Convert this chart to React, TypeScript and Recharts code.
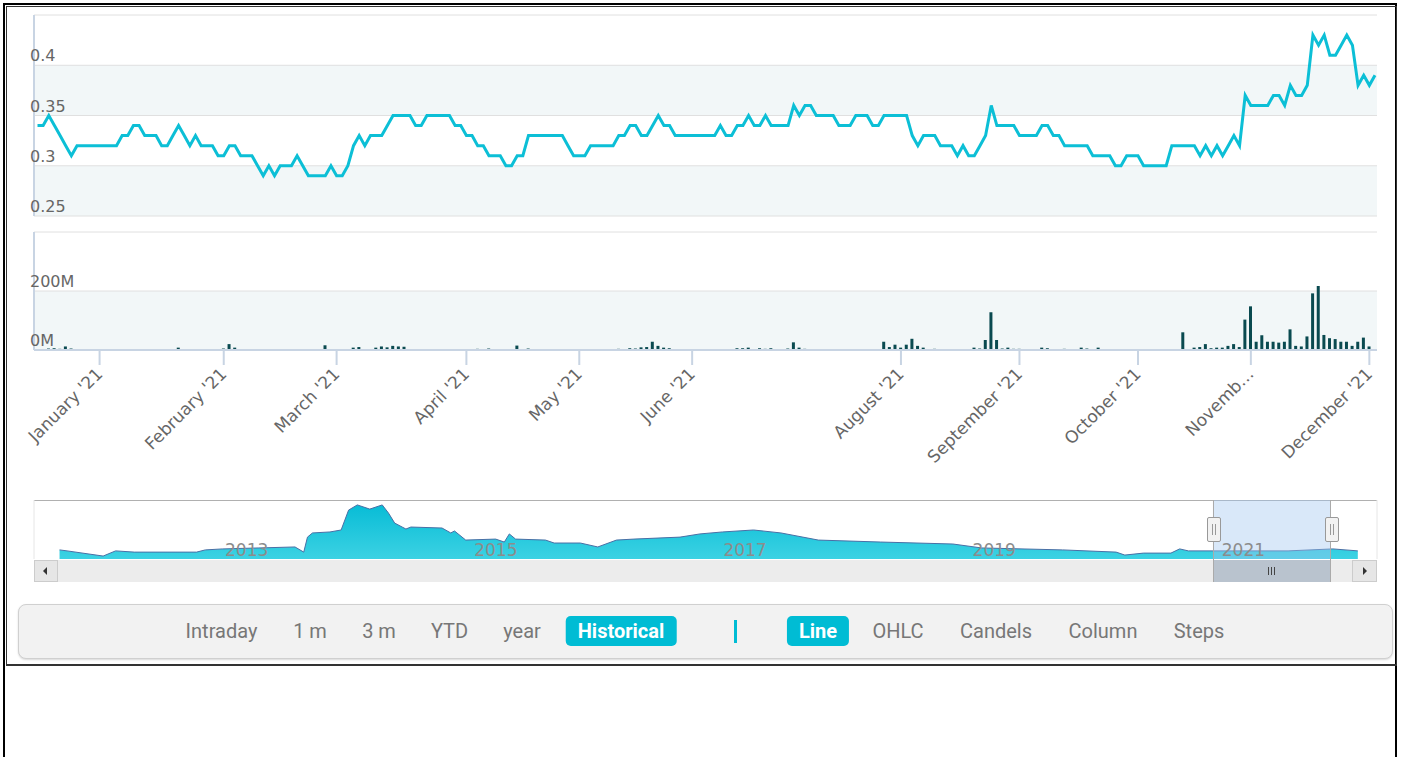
import React from 'react';
import {
  LineChart,
  Line,
  BarChart,
  Bar,
  AreaChart,
  Area,
  XAxis,
  YAxis,
  CartesianGrid,
  ReferenceArea,
  ReferenceLine,
} from 'recharts';

// closing price per trading day, Dec '20 .. Dec '21
const prices = [
  0.34, 0.34, 0.35, 0.34, 0.33, 0.32, 0.31, 0.32, 0.32, 0.32, 0.32, 0.32, 0.32, 0.32, 0.32, 0.33, 0.33, 0.34, 0.34, 0.33,
  0.33, 0.33, 0.32, 0.32, 0.33, 0.34, 0.33, 0.32, 0.33, 0.32, 0.32, 0.32, 0.31, 0.31, 0.32, 0.32, 0.31, 0.31, 0.31, 0.30,
  0.29, 0.30, 0.29, 0.30, 0.30, 0.30, 0.31, 0.30, 0.29, 0.29, 0.29, 0.29, 0.30, 0.29, 0.29, 0.30, 0.32, 0.33, 0.32, 0.33,
  0.33, 0.33, 0.34, 0.35, 0.35, 0.35, 0.35, 0.34, 0.34, 0.35, 0.35, 0.35, 0.35, 0.35, 0.34, 0.34, 0.33, 0.33, 0.32, 0.32,
  0.31, 0.31, 0.31, 0.30, 0.30, 0.31, 0.31, 0.33, 0.33, 0.33, 0.33, 0.33, 0.33, 0.33, 0.32, 0.31, 0.31, 0.31, 0.32, 0.32,
  0.32, 0.32, 0.32, 0.33, 0.33, 0.34, 0.34, 0.33, 0.33, 0.34, 0.35, 0.34, 0.34, 0.33, 0.33, 0.33, 0.33, 0.33, 0.33, 0.33,
  0.33, 0.34, 0.33, 0.33, 0.34, 0.34, 0.35, 0.34, 0.34, 0.35, 0.34, 0.34, 0.34, 0.34, 0.36, 0.35, 0.36, 0.36, 0.35, 0.35,
  0.35, 0.35, 0.34, 0.34, 0.34, 0.35, 0.35, 0.35, 0.34, 0.34, 0.35, 0.35, 0.35, 0.35, 0.35, 0.33, 0.32, 0.33, 0.33, 0.33,
  0.32, 0.32, 0.32, 0.31, 0.32, 0.31, 0.31, 0.32, 0.33, 0.36, 0.34, 0.34, 0.34, 0.34, 0.33, 0.33, 0.33, 0.33, 0.34, 0.34,
  0.33, 0.33, 0.32, 0.32, 0.32, 0.32, 0.32, 0.31, 0.31, 0.31, 0.31, 0.30, 0.30, 0.31, 0.31, 0.31, 0.30, 0.30, 0.30, 0.30,
  0.30, 0.32, 0.32, 0.32, 0.32, 0.32, 0.31, 0.32, 0.31, 0.32, 0.31, 0.32, 0.33, 0.32, 0.37, 0.36, 0.36, 0.36, 0.36, 0.37,
  0.37, 0.36, 0.38, 0.37, 0.37, 0.38, 0.43, 0.42, 0.43, 0.41, 0.41, 0.42, 0.43, 0.42, 0.38, 0.39, 0.38, 0.39,
];

// traded volume per day, millions
const volumes = [
  0, 0, 5, 6, 4, 12, 5, 0, 0, 0, 0, 0, 0, 0, 0, 0, 0, 3, 3, 0,
  0, 0, 0, 0, 0, 8, 0, 0, 0, 0, 3, 0, 0, 5, 20, 8, 0, 0, 0, 0,
  0, 0, 0, 0, 0, 0, 0, 0, 0, 0, 0, 16, 0, 0, 0, 0, 8, 10, 0, 0,
  8, 12, 9, 14, 12, 11, 0, 0, 0, 3, 0, 0, 0, 3, 0, 0, 0, 0, 4, 3,
  5, 0, 0, 3, 0, 15, 0, 5, 0, 0, 0, 0, 0, 0, 0, 0, 0, 0, 2, 0,
  0, 0, 3, 4, 0, 6, 5, 9, 10, 28, 14, 8, 6, 2, 2, 0, 0, 0, 0, 0,
  0, 0, 0, 0, 6, 6, 8, 0, 6, 4, 6, 0, 0, 5, 26, 8, 4, 0, 0, 0,
  0, 3, 3, 0, 3, 3, 0, 0, 0, 0, 28, 10, 18, 8, 18, 38, 14, 8, 0, 4,
  3, 0, 3, 0, 0, 0, 8, 5, 34, 128, 34, 5, 8, 4, 4, 0, 0, 0, 8, 6,
  0, 3, 4, 0, 0, 8, 5, 0, 8, 0, 0, 3, 3, 0, 0, 0, 0, 0, 0, 3,
  0, 3, 0, 60, 0, 8, 10, 20, 6, 8, 8, 14, 20, 10, 103, 148, 28, 50, 28, 28,
  25, 28, 70, 14, 12, 46, 192, 217, 51, 40, 37, 28, 28, 14, 28, 42, 12, 0,
];

const monthTickIndex = [11, 33, 53, 76, 96, 116, 153, 174, 195, 215, 236];
const monthTickLabels = [
  "January '21", "February '21", "March '21", "April '21", "May '21", "June '21",
  "August '21", "September '21", "October '21", 'Novemb…', "December '21",
];
const priceTicks = [0.25, 0.3, 0.35, 0.4, 0.45];
const volumeTicks = [0, 200, 400];

// navigator: full history
const navYears = [
  2011.72, 2011.78, 2012.07, 2012.17, 2012.32, 2012.82, 2012.89, 2013.03, 2013.32, 2013.61,
  2013.68, 2013.71, 2013.75, 2013.89, 2013.98, 2014.04, 2014.11, 2014.21, 2014.31, 2014.36,
  2014.41, 2014.47, 2014.5, 2014.54, 2014.79, 2014.86, 2014.89, 2014.98, 2015.22, 2015.29,
  2015.33, 2015.38, 2015.62, 2015.69, 2015.9, 2016.04, 2016.19, 2016.33, 2016.7, 2016.86,
  2017.04, 2017.29, 2017.51, 2017.81, 2018.31, 2018.89, 2019.12, 2019.77, 2020.2, 2020.27,
  2020.42, 2020.64, 2020.71, 2020.78, 2021.58, 2021.94, 2022.14,
];
const navValues = [
  0.37, 0.33, 0.12, 0.33, 0.28, 0.28, 0.37, 0.41, 0.45, 0.49,
  0.28, 0.89, 1.06, 1.1, 1.18, 1.99, 2.2, 2.03, 2.2, 1.87,
  1.46, 1.3, 1.22, 1.3, 1.26, 1.06, 1.14, 0.77, 0.81, 0.69,
  1.02, 0.81, 0.77, 0.65, 0.65, 0.49, 0.77, 0.81, 0.89, 1.02,
  1.1, 1.18, 1.06, 0.77, 0.69, 0.61, 0.45, 0.37, 0.28, 0.16,
  0.24, 0.24, 0.41, 0.33, 0.33, 0.41, 0.33,
];
const navYearTicks = [2013, 2015, 2017, 2019, 2021];
const navDomain = [2011.515, 2022.294];
const navSelection = [2020.977, 2021.925];

const rangeButtons = ['Intraday', '1 m', '3 m', 'YTD', 'year', 'Historical'];
const rangeButtonX = [221.5, 310, 379, 449.5, 522, 621];
const typeButtons = ['Line', 'OHLC', 'Candels', 'Column', 'Steps'];
const typeButtonX = [818, 898, 996, 1103, 1199];

const FONT = '"DejaVu Sans", sans-serif';
const AXIS = '#c8d4e3';
const BAND = '#f2f7f8';
const CYAN = '#0cbfd6';

function PriceTick(props: any) {
  const { y, payload } = props;
  if (payload.value === 0.45) return <g />;
  return (
    <text x={30} y={y - 4} fontSize={16} fill="#666" fontFamily={FONT}>
      {String(payload.value)}
    </text>
  );
}

function VolumeTick(props: any) {
  const { y, payload } = props;
  if (payload.value === 400) return <g />;
  return (
    <text x={30} y={y - 4} fontSize={16} fill="#666" fontFamily={FONT}>
      {`${payload.value}M`}
    </text>
  );
}

function MonthTick(props: any) {
  const { x, y, payload } = props;
  const k = monthTickIndex.indexOf(payload.value);
  const ax = x + 4;
  const ay = y + 8;
  return (
    <text
      x={ax}
      y={ay}
      textAnchor="end"
      transform={`rotate(-45 ${ax} ${ay})`}
      fontSize={17}
      fill="#666"
      fontFamily={FONT}
    >
      {monthTickLabels[k]}
    </text>
  );
}

function yearLabel(year: number) {
  return (p: any) => {
    const vb = p.viewBox ?? p;
    return (
      <text x={vb.x + 6} y={vb.y + vb.height - 3} fontSize={17} fill="#8c8c8c" fontFamily={FONT}>
        {String(year)}
      </text>
    );
  };
}

function Handle({ left }: { left: number }) {
  return (
    <div
      style={{
        position: 'absolute', left: left - 6, top: 517, width: 12, height: 23,
        background: '#f2f2f2', border: '1px solid #999', borderRadius: 2,
      }}
    >
      <div style={{ position: 'absolute', left: 4, top: 6, width: 1, height: 11, background: '#999' }} />
      <div style={{ position: 'absolute', left: 7, top: 6, width: 1, height: 11, background: '#999' }} />
    </div>
  );
}

function TextButton({ label, cx, active }: { label: string; cx: number; active: boolean }) {
  return (
    <div
      style={{
        position: 'absolute', left: cx, top: 616, height: 30, lineHeight: '30px',
        transform: 'translateX(-50%)', padding: active ? '0 12px' : 0,
        background: active ? '#00bcd4' : 'transparent', borderRadius: 5,
        color: active ? '#fff' : '#777', fontWeight: active ? 700 : 400,
        fontFamily: 'Roboto, sans-serif', fontSize: 20, whiteSpace: 'nowrap',
      }}
    >
      {label}
    </div>
  );
}

export default function App() {
  const mainData = prices.map((p, i) => ({ i, price: p, volume: volumes[i] }));
  const navData = navYears.map((t, k) => ({ t, v: navValues[k] }));

  return (
    <div style={{ position: 'absolute', left: 0, top: 0, width: 1404, height: 757, overflow: 'hidden', background: '#fff' }}>
      {/* page frames */}
      <div style={{ position: 'absolute', left: 3, top: 3, width: 1394, height: 800, border: '2px solid #000', boxSizing: 'border-box' }} />
      <div style={{ position: 'absolute', left: 6, top: 6, width: 1391, height: 660, border: '1px solid #333', borderBottomWidth: 2, boxSizing: 'border-box' }} />

      {/* price pane */}
      <div style={{ position: 'absolute', left: 0, top: 0 }}>
        <LineChart width={1404} height={230} data={mainData} margin={{ top: 15, right: 27, bottom: 14, left: 0 }}>
          <CartesianGrid vertical={false} stroke="#e0e0e0" horizontalFill={['#ffffff', BAND, '#ffffff', BAND]} />
          <XAxis type="number" dataKey="i" domain={[0, prices.length - 1]} hide padding={{ left: 3.5, right: 2 }} />
          <YAxis
            width={34}
            domain={[0.25, 0.45]}
            ticks={priceTicks}
            interval={0}
            tickLine={false}
            axisLine={{ stroke: AXIS, strokeWidth: 2 }}
            tick={PriceTick}
          />
          <Line type="linear" dataKey="price" stroke={CYAN} strokeWidth={3} dot={false} isAnimationActive={false} />
        </LineChart>
      </div>

      {/* volume pane */}
      <div style={{ position: 'absolute', left: 0, top: 225 }}>
        <BarChart width={1404} height={260} data={mainData} margin={{ top: 7, right: 27, bottom: 0, left: 0 }}>
          <CartesianGrid vertical={false} stroke="#e0e0e0" horizontalFill={['#ffffff', BAND]} />
          <XAxis
            type="number"
            dataKey="i"
            domain={[0, prices.length - 1]}
            padding={{ left: 3.5, right: 2 }}
            ticks={monthTickIndex}
            interval={0}
            height={135}
            tickSize={15}
            tickLine={{ stroke: AXIS, strokeWidth: 2 }}
            axisLine={{ stroke: AXIS, strokeWidth: 2 }}
            tick={MonthTick}
          />
          <YAxis
            width={34}
            domain={[0, 400]}
            ticks={volumeTicks}
            interval={0}
            tickLine={false}
            axisLine={{ stroke: AXIS, strokeWidth: 2 }}
            tick={VolumeTick}
          />
          <Bar dataKey="volume" fill="#0a4a50" barSize={3} isAnimationActive={false} />
        </BarChart>
      </div>

      {/* navigator */}
      <div style={{ position: 'absolute', left: 34, top: 500, width: 1343, height: 1, background: '#b0b0b0' }} />
      <div style={{ position: 'absolute', left: 0, top: 495 }}>
        <AreaChart width={1404} height={66} data={navData} margin={{ top: 5, right: 27, bottom: 2, left: 34 }}>
          <defs>
            <linearGradient id="navFill" x1="0" y1="0" x2="0" y2="1">
              <stop offset="0%" stopColor="#08bcd6" />
              <stop offset="100%" stopColor="#3cd2e3" />
            </linearGradient>
          </defs>
          <CartesianGrid horizontal={false} stroke="#e6e6e6" />
          <XAxis
            type="number"
            dataKey="t"
            domain={navDomain}
            allowDataOverflow
            ticks={navYearTicks}
            interval={0}
            height={0}
            axisLine={false}
            tickLine={false}
            tick={false}
          />
          <YAxis hide domain={[0, 2.4]} />
          <Area
            type="linear"
            dataKey="v"
            stroke="#4a6fa5"
            strokeWidth={1}
            fill="url(#navFill)"
            fillOpacity={1}
            isAnimationActive={false}
          />
          {navYearTicks.map((yr) => (
            <ReferenceLine key={yr} x={yr} stroke="none" label={yearLabel(yr)} />
          ))}
          <ReferenceArea x1={navSelection[0]} x2={navSelection[1]} fill="#9fc6ef" fillOpacity={0.4} stroke="none" />
        </AreaChart>
      </div>

      {/* scrollbar */}
      <div style={{ position: 'absolute', left: 34, top: 560, width: 1343, height: 22, background: '#ececec' }} />
      <div style={{ position: 'absolute', left: 34, top: 560, width: 24, height: 22, background: '#e6e6e6', border: '1px solid #cccccc', boxSizing: 'border-box' }}>
        <div style={{ position: 'absolute', left: 8, top: 6, width: 0, height: 0, borderTop: '4px solid transparent', borderBottom: '4px solid transparent', borderRight: '4px solid #333' }} />
      </div>
      <div style={{ position: 'absolute', left: 1352, top: 560, width: 25, height: 22, background: '#e6e6e6', border: '1px solid #cccccc', boxSizing: 'border-box' }}>
        <div style={{ position: 'absolute', left: 10, top: 6, width: 0, height: 0, borderTop: '4px solid transparent', borderBottom: '4px solid transparent', borderLeft: '4px solid #333' }} />
      </div>
      <div style={{ position: 'absolute', left: 1213, top: 500, width: 118, height: 82, borderLeft: '1px solid #aaa', borderRight: '1px solid #aaa', boxSizing: 'border-box' }} />
      <div style={{ position: 'absolute', left: 1213, top: 560, width: 118, height: 22, background: '#b9c3ce', borderLeft: '1px solid #aaa', borderRight: '1px solid #aaa', boxSizing: 'border-box' }}>
        <div style={{ position: 'absolute', left: 54, top: 7, width: 1, height: 8, background: '#444' }} />
        <div style={{ position: 'absolute', left: 57, top: 7, width: 1, height: 8, background: '#444' }} />
        <div style={{ position: 'absolute', left: 60, top: 7, width: 1, height: 8, background: '#444' }} />
      </div>
      <Handle left={1213} />
      <Handle left={1331} />

      {/* button bar */}
      <div
        style={{
          position: 'absolute', left: 18, top: 604, width: 1375, height: 55, boxSizing: 'border-box',
          background: '#f2f2f2', border: '1px solid #d0d0d0', borderRadius: 8, boxShadow: '0 1px 2px rgba(0,0,0,0.15)',
        }}
      />
      {rangeButtons.map((b, k) => (
        <TextButton key={b} label={b} cx={rangeButtonX[k]} active={b === 'Historical'} />
      ))}
      <div style={{ position: 'absolute', left: 734, top: 620, width: 3, height: 23, background: '#00bcd4' }} />
      {typeButtons.map((b, k) => (
        <TextButton key={b} label={b} cx={typeButtonX[k]} active={b === 'Line'} />
      ))}
    </div>
  );
}
